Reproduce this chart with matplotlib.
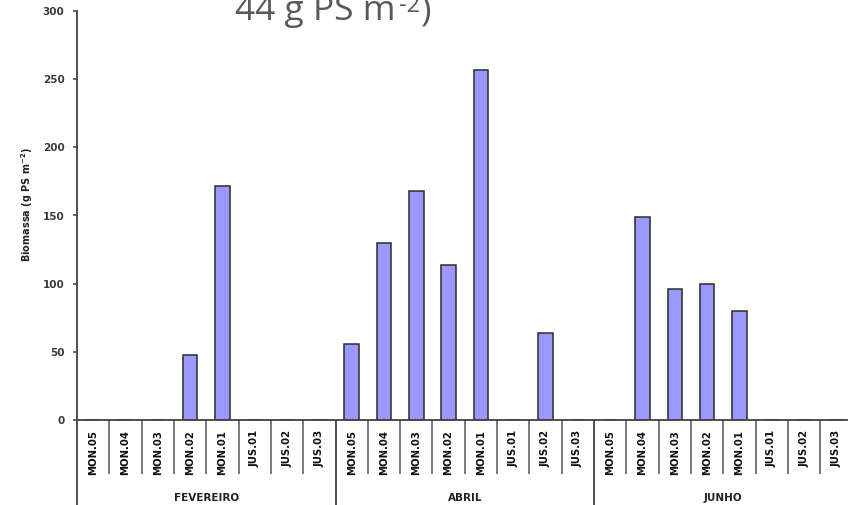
import matplotlib
matplotlib.use("Agg")
import matplotlib.pyplot as plt
import matplotlib.transforms as mtransforms
import numpy as np

# Data
months = ["FEVEREIRO", "ABRIL", "JUNHO"]
stations = ["MON.05", "MON.04", "MON.03", "MON.02", "MON.01", "JUS.01", "JUS.02", "JUS.03"]
fevereiro = [0, 0, 0, 48, 172, 0, 0, 0]
abril = [56, 130, 168, 114, 257, 0, 64, 0]
junho = [0, 149, 96, 100, 80, 0, 0, 0]
yticks = [0, 50, 100, 150, 200, 250, 300]

values = fevereiro + abril + junho
labels = stations * len(months)
n = len(values)
x = np.arange(n)

W, H = 848, 505
fig = plt.figure(figsize=(W / 100, H / 100), dpi=100)
fig.patch.set_facecolor("white")

ax_left, ax_right = 77, 852.5
ax_bottom, ax_top = 420, 11
ax = fig.add_axes([ax_left / W, (H - ax_bottom) / H,
                   (ax_right - ax_left) / W, (ax_bottom - ax_top) / H])

axis_color = "#404040"
ax.bar(x, values, width=0.45, color="#9999FF", edgecolor="#2b2b2b", linewidth=1.1, zorder=1)

ax.set_xlim(-0.5, n - 0.5)
ax.set_ylim(0, 300)

for s in ["top", "right"]:
    ax.spines[s].set_visible(False)
for s in ["left", "bottom"]:
    ax.spines[s].set_color(axis_color)
    ax.spines[s].set_linewidth(1.3)
    ax.spines[s].set_zorder(4)

ax.set_yticks(yticks)
ax.set_yticklabels([str(v) for v in yticks], fontsize=7.5, fontweight="bold",
                   color="#3a3a3a", family="DejaVu Sans")
ax.tick_params(axis="y", direction="out", length=3, width=1.1, color=axis_color, pad=6)

# Category separators below the axis: short between stations, long between months
group_edges = [-0.5 + 8 * k for k in range(len(months) + 1)]
inner_edges = [e for e in np.arange(-0.5, n, 1.0) if e not in group_edges]
ax.set_xticks(group_edges)
ax.set_xticklabels([])
ax.set_xticks(inner_edges, minor=True)
ax.tick_params(axis="x", which="major", direction="out", length=62, width=1.3, color=axis_color)
ax.tick_params(axis="x", which="minor", direction="out", length=39, width=1.1, color="#555555")

trans = mtransforms.blended_transform_factory(ax.transData, ax.transAxes)
ax_h = ax_bottom - ax_top
for xi, lab in zip(x, labels):
    ax.text(xi, -10 / ax_h, lab, rotation=90, ha="center", va="top", transform=trans,
            fontsize=7.3, fontweight="bold", color="#111111", family="DejaVu Sans")

for k, m in enumerate(months):
    ax.text(8 * k + 3.5, -(498 - ax_bottom) / ax_h, m, ha="center", va="center",
            transform=trans, fontsize=7.5, fontweight="bold", color="#222222",
            family="DejaVu Sans")

fig.text(27 / W, (H - 205) / H, r"Biomassa (g PS m$^{\mathregular{-2}}$)", rotation=90,
         ha="center", va="center", fontsize=7, fontweight="bold", color="#222222",
         family="DejaVu Sans")

# Tail of the slide heading above the chart, set piece by piece so the
# superscript sits just above the x-height
renderer = fig.canvas.get_renderer()
head_kw = dict(ha="left", va="baseline", color="#595959", family="Open Sans")
base_y = 20
cursor = 235.0
pieces = [("44 g PS m", 25.5, 0, 3), ("-2", 17, 8, 1), (")", 25.5, 0, 0)]
for txt, size, rise, gap in pieces:
    t = fig.text(cursor / W, (H - base_y + rise) / H, txt, fontsize=size, **head_kw)
    bb = t.get_window_extent(renderer=renderer)
    cursor += bb.width + gap

fig.savefig("out.png", dpi=100, facecolor="white")
